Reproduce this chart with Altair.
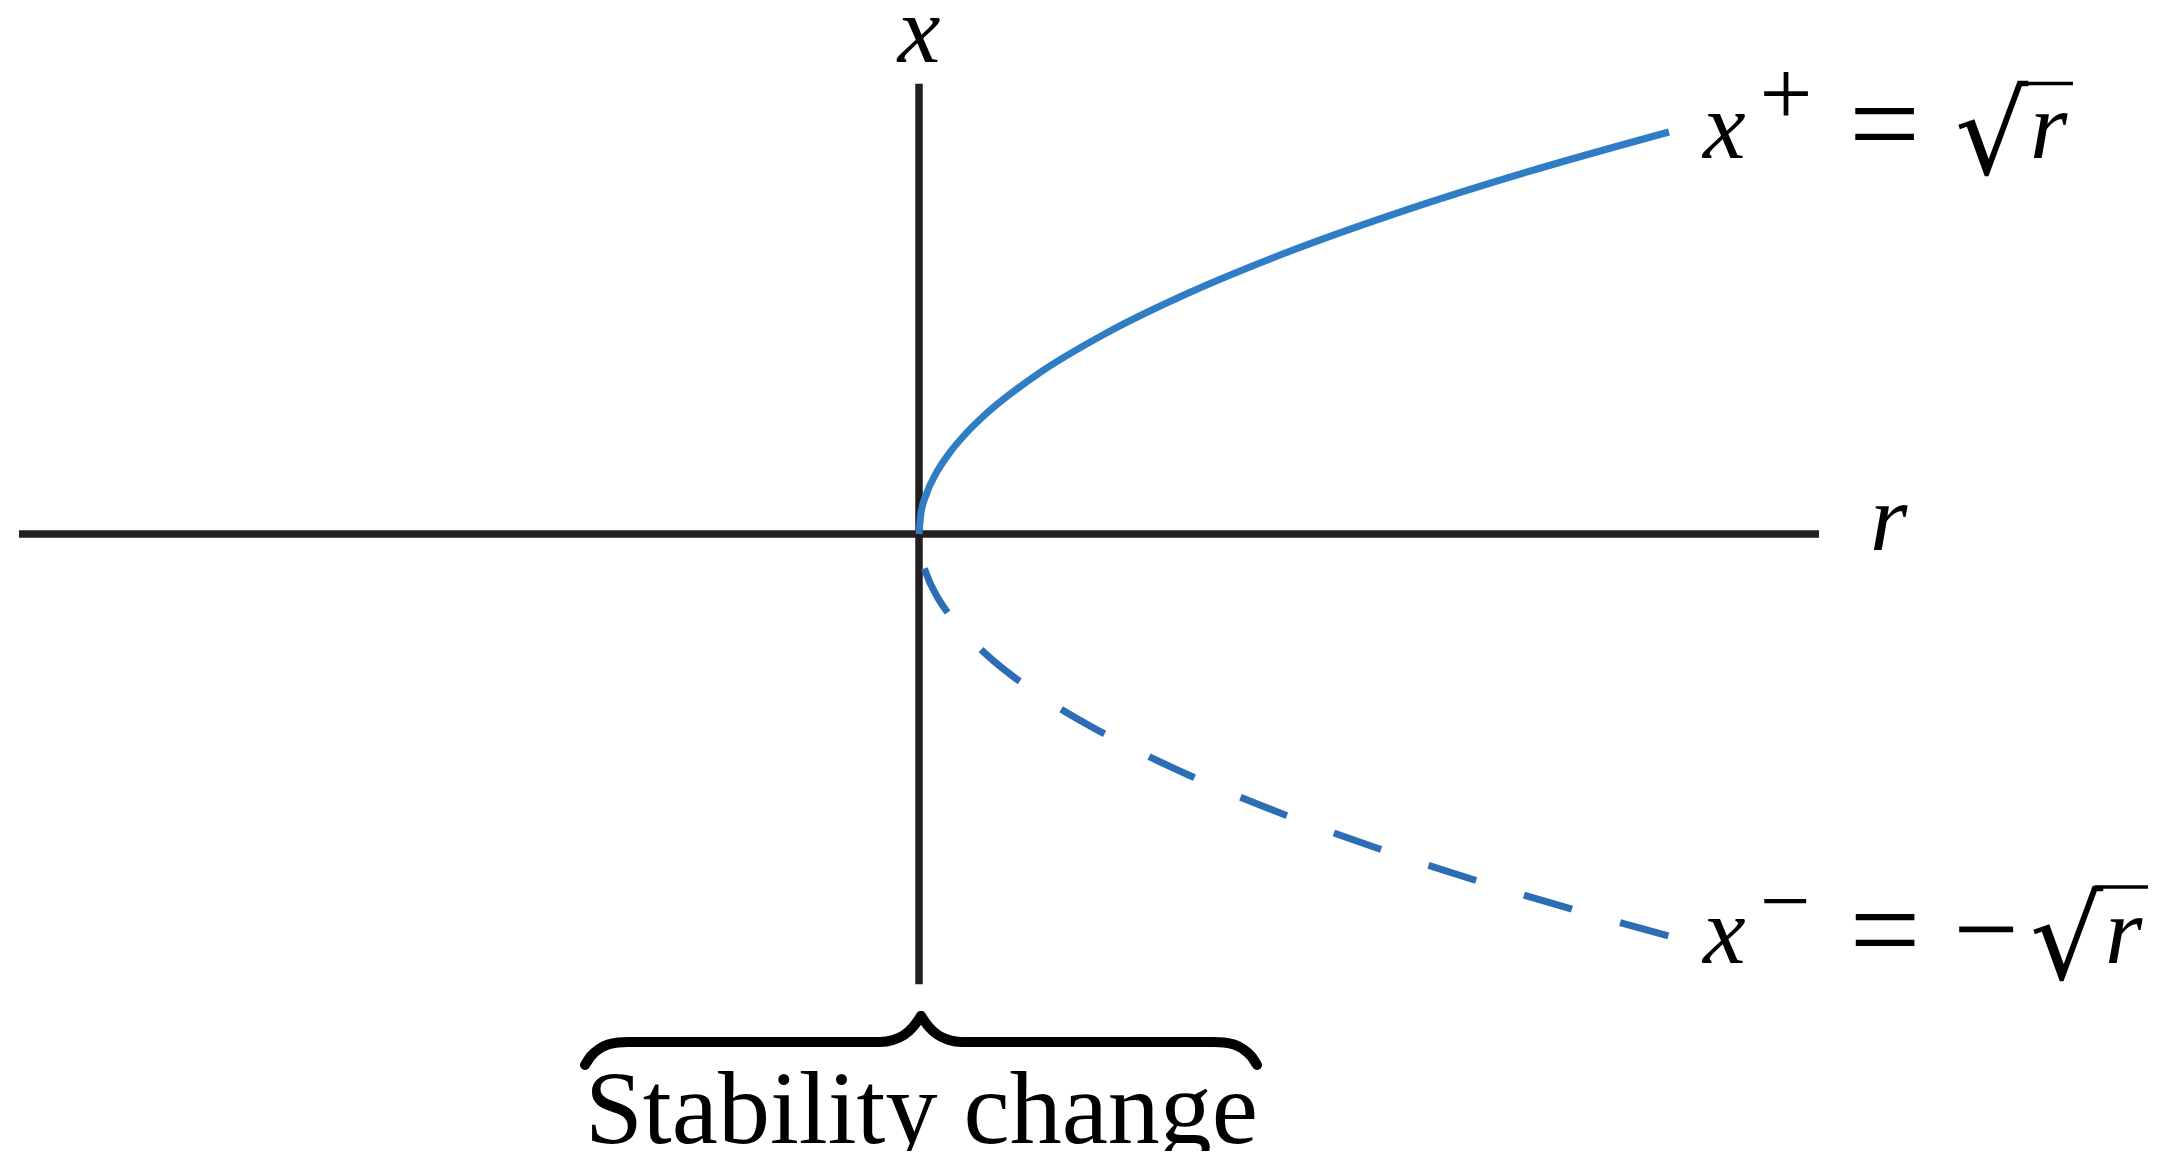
import altair as alt
import pandas as pd

# ---- plotting frame (math units) ----
W, H = 2147, 1143
XMIN, XMAX = -1.214667, 1.648
YMIN, YMAX = -1.534826, 1.308458

# ---- axes segments ----
seg_r1 = [-1.2, 0.0]
seg_r2 = [1.2, 0.0]
seg_x1 = [0.0, 1.12]
seg_x2 = [0.0, -1.12]

# ---- branches of fixed points ----
branch_r = [0, 0.0025, 0.01, 0.0225, 0.04, 0.0625, 0.09, 0.16, 0.25, 0.36, 0.49, 0.64, 0.81, 1.0]
upper_x = [0, 0.05, 0.1, 0.15, 0.2, 0.25, 0.3, 0.4, 0.5, 0.6, 0.7, 0.8, 0.9, 1.0]
lower_x = [0, -0.05, -0.1, -0.15, -0.2, -0.25, -0.3, -0.4, -0.5, -0.6, -0.7, -0.8, -0.9, -1.0]

# ---- brace under the origin ----
brace_left_r = [-0.4453, -0.4373, -0.4267, -0.4147, -0.4013, -0.388, -0.052, -0.0347, -0.02, -0.008, 0.0027]
brace_left_x = [-1.3209, -1.2985, -1.2811, -1.2699, -1.2649, -1.2637, -1.2637, -1.2587, -1.2463, -1.2264, -1.199]
brace_right_r = [0.0027, 0.0133, 0.0253, 0.04, 0.0573, 0.3933, 0.4067, 0.42, 0.432, 0.4427, 0.4507]
brace_right_x = [-1.199, -1.2264, -1.2463, -1.2587, -1.2637, -1.2637, -1.2649, -1.2699, -1.2811, -1.2985, -1.3209]

# ---- text ----
italic_text = ["x", "r", "x", "r", "x", "r"]
italic_r = [0.0, 1.268, 1.0453, 1.4813, 1.0453, 1.5813]
italic_x = [1.174, -0.0398, 0.9353, 0.9353, -1.0672, -1.0672]
italic_align = ["center", "left", "left", "left", "left", "left"]

op_text = ["+", "=", "\u2212", "=", "\u2212"]
op_r = [1.156, 1.2873, 1.1553, 1.288, 1.4227]
op_x = [1.0167, 0.9157, -0.987, -1.0893, -1.0804]
op_size = [94, 126, 90, 126, 116]

rad_text = ["\u221a", "\u221a"]
rad_r = [1.3813, 1.4813]
rad_x = [0.8955, -1.107]

vinc_r1 = [1.468, 1.568]
vinc_r2 = [1.5387, 1.6387]
vinc_x = [1.1206, -0.878]

caption_text = ["Stability change"]
caption_r = [0.0033]
caption_x = [-1.5149]

AXIS = "#231f20"

xs = alt.Scale(domain=[XMIN, XMAX], nice=False, zero=False)
ys = alt.Scale(domain=[YMIN, YMAX], nice=False, zero=False)

def X(f):
    return alt.X(f, type="quantitative", scale=xs, axis=None)

def Y(f):
    return alt.Y(f, type="quantitative", scale=ys, axis=None)

segs = pd.DataFrame({"r1": seg_r1, "r2": seg_r2, "x1": seg_x1, "x2": seg_x2})
axes = alt.Chart(segs).mark_rule(color=AXIS, strokeWidth=7.5, strokeCap="butt").encode(
    x=X("r1"), x2="r2", y=Y("x1"), y2="x2"
)

up = pd.DataFrame({"r": branch_r, "x": upper_x})
lo = pd.DataFrame({"r": branch_r, "x": lower_x})
upper = alt.Chart(up).mark_line(color="#2f7ec5", strokeWidth=7, interpolate="monotone", strokeCap="butt").encode(
    x=X("r"), y=Y("x")
)
lower = alt.Chart(lo).mark_line(color="#2d6db5", strokeWidth=7, interpolate="monotone", strokeCap="butt",
                                strokeDash=[50, 50], strokeDashOffset=65).encode(
    x=X("r"), y=Y("x")
)

brace_df = pd.concat([
    pd.DataFrame({"r": brace_left_r, "x": brace_left_x, "part": "L", "k": range(len(brace_left_r))}),
    pd.DataFrame({"r": brace_right_r, "x": brace_right_x, "part": "R", "k": range(len(brace_right_r))}),
])
brace = alt.Chart(brace_df).mark_line(color="black", strokeWidth=10, interpolate="monotone",
                                      strokeCap="round", strokeJoin="round").encode(
    x=X("r"), y=Y("x"), detail="part:N", order="k:Q"
)

it_df = pd.DataFrame({"t": italic_text, "r": italic_r, "x": italic_x, "a": italic_align})
italics_c = alt.Chart(it_df[it_df.a == "center"]).mark_text(
    font="Liberation Serif", fontStyle="italic", fontSize=96, align="center", baseline="alphabetic", color="black"
).encode(x=X("r"), y=Y("x"), text="t:N")
italics_l = alt.Chart(it_df[it_df.a == "left"]).mark_text(
    font="Liberation Serif", fontStyle="italic", fontSize=96, align="left", baseline="alphabetic", color="black"
).encode(x=X("r"), y=Y("x"), text="t:N")

op_df = pd.DataFrame({"t": op_text, "r": op_r, "x": op_x, "s": op_size})
ops = alt.Chart(op_df).mark_text(
    font="Liberation Serif", align="center", baseline="alphabetic", color="black"
).encode(x=X("r"), y=Y("x"), text="t:N", size=alt.Size("s:Q", scale=None))

rad_df = pd.DataFrame({"t": rad_text, "r": rad_r, "x": rad_x})
rads = alt.Chart(rad_df).mark_text(
    font="DejaVu Sans", fontSize=115, align="left", baseline="alphabetic", color="black"
).encode(x=X("r"), y=Y("x"), text="t:N")

vinc_df = pd.DataFrame({"r1": vinc_r1, "r2": vinc_r2, "x": vinc_x})
vinc = alt.Chart(vinc_df).mark_rule(color="black", strokeWidth=3.5, strokeCap="butt").encode(
    x=X("r1"), x2="r2", y=Y("x")
)

cap_df = pd.DataFrame({"t": caption_text, "r": caption_r, "x": caption_x})
caption = alt.Chart(cap_df).mark_text(
    font="Liberation Serif", fontSize=104, align="center", baseline="alphabetic", color="black"
).encode(x=X("r"), y=Y("x"), text="t:N")

chart = alt.layer(axes, upper, lower, brace, italics_c, italics_l, ops, rads, vinc, caption).properties(
    width=W, height=H, padding=0, autosize=alt.AutoSizeParams(type="none")
).configure_view(stroke=None)

chart.save("out.html", embed_options={"renderer": "svg", "actions": False})
